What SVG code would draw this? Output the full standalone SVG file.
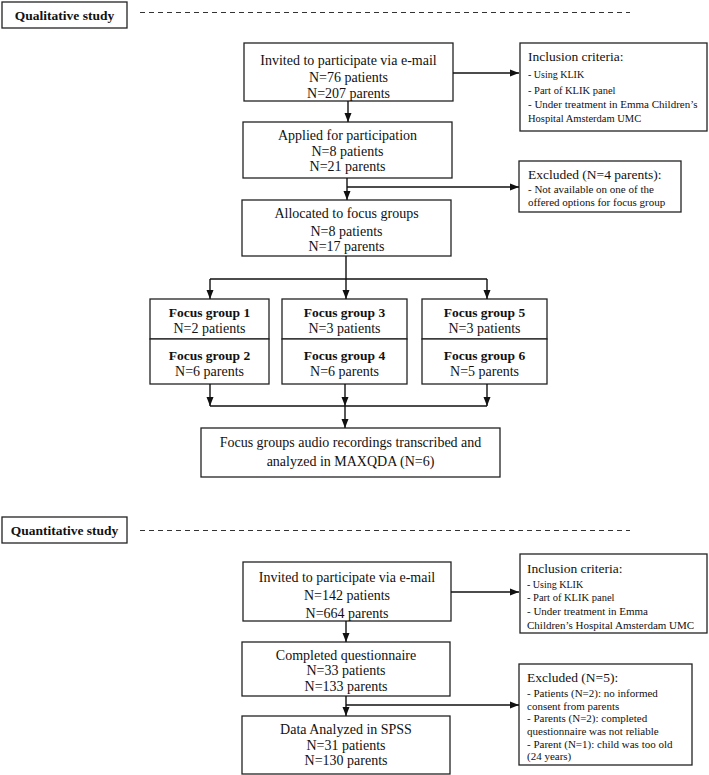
<svg xmlns="http://www.w3.org/2000/svg" width="709" height="775" viewBox="0 0 709 775">
<defs>
<marker id="ah" markerUnits="userSpaceOnUse" markerWidth="9" markerHeight="8" refX="9" refY="4" orient="auto">
<path d="M0,0.5 L9,4 L0,7.5 z" fill="#111"/>
</marker>
<style>
.box{fill:#fff;stroke:#222;stroke-width:1.3}
.ln{fill:none;stroke:#111;stroke-width:1.4}
.dash{fill:none;stroke:#333;stroke-width:1;stroke-dasharray:5,4}
text{font-family:"Liberation Serif","Times New Roman",serif;fill:#111}
.t{font-size:14px;text-anchor:middle}
.b{font-size:13.5px;font-weight:bold;text-anchor:middle}
.h{font-size:13.5px}
.s{font-size:11px}
.s10{font-size:10px}
.s105{font-size:10.5px}
</style>
</defs>
<rect width="709" height="775" fill="#fff"/>

<g id="qual-header">
<rect class="box" x="2" y="2" width="125" height="26"/>
<text class="b" x="64.5" y="20">Qualitative study</text>
<line class="dash" x1="140" y1="12.5" x2="630" y2="12.5"/>
</g>

<g id="q-invited">
<rect class="box" x="244" y="43" width="209" height="58"/>
<text class="t" x="348.5" y="65">Invited to participate via e-mail</text>
<text class="t" x="348.5" y="82">N=76 patients</text>
<text class="t" x="348.5" y="98">N=207 parents</text>
</g>

<g id="q-inclusion">
<rect class="box" x="520" y="43" width="187" height="88"/>
<text class="h" x="528" y="61">Inclusion criteria:</text>
<text class="s10" x="528" y="78">- Using KLIK</text>
<text class="s105" x="528" y="94">- Part of KLIK panel</text>
<text class="s" x="528" y="108">- Under treatment in Emma Children’s</text>
<text class="s105" x="528" y="122">Hospital Amsterdam UMC</text>
</g>

<g id="q-applied">
<rect class="box" x="243" y="122" width="209" height="56"/>
<text class="t" x="347.5" y="140">Applied for participation</text>
<text class="t" x="347.5" y="156">N=8 patients</text>
<text class="t" x="347.5" y="171">N=21 parents</text>
</g>

<g id="q-excluded">
<rect class="box" x="519" y="161" width="162" height="51"/>
<text class="h" x="528" y="179">Excluded (N=4 parents):</text>
<text class="s" x="528" y="193">- Not available on one of the</text>
<text class="s" x="528" y="206">offered options for focus group</text>
</g>

<g id="q-allocated">
<rect class="box" x="242" y="200" width="209" height="56"/>
<text class="t" x="346.5" y="218">Allocated to focus groups</text>
<text class="t" x="346.5" y="236">N=8 patients</text>
<text class="t" x="346.5" y="251">N=17 parents</text>
</g>

<g id="fg1">
<rect class="box" x="150" y="299" width="119" height="40"/>
<text class="b" x="209.5" y="317">Focus group 1</text>
<text class="t" x="209.5" y="333">N=2 patients</text>
</g>
<g id="fg2">
<rect class="box" x="150" y="339" width="119" height="45"/>
<text class="b" x="209.5" y="360">Focus group 2</text>
<text class="t" x="209.5" y="376">N=6 parents</text>
</g>
<g id="fg3">
<rect class="box" x="282" y="299" width="125" height="40"/>
<text class="b" x="344.5" y="317">Focus group 3</text>
<text class="t" x="344.5" y="333">N=3 patients</text>
</g>
<g id="fg4">
<rect class="box" x="282" y="339" width="125" height="45"/>
<text class="b" x="344.5" y="360">Focus group 4</text>
<text class="t" x="344.5" y="376">N=6 parents</text>
</g>
<g id="fg5">
<rect class="box" x="422" y="299" width="125" height="40"/>
<text class="b" x="484.5" y="317">Focus group 5</text>
<text class="t" x="484.5" y="333">N=3 patients</text>
</g>
<g id="fg6">
<rect class="box" x="422" y="339" width="125" height="45"/>
<text class="b" x="484.5" y="360">Focus group 6</text>
<text class="t" x="484.5" y="376">N=5 parents</text>
</g>

<g id="q-analysis">
<rect class="box" x="201" y="428" width="299" height="49"/>
<text class="t" x="350.5" y="447">Focus groups audio recordings transcribed and</text>
<text class="t" x="350.5" y="466">analyzed in MAXQDA (N=6)</text>
</g>

<g id="quant-header">
<rect class="box" x="2" y="517" width="125" height="26"/>
<text class="b" x="64.5" y="535">Quantitative study</text>
<line class="dash" x1="140" y1="530.5" x2="630" y2="530.5"/>
</g>

<g id="n-invited">
<rect class="box" x="243" y="562" width="208" height="59"/>
<text class="t" x="347" y="582">Invited to participate via e-mail</text>
<text class="t" x="347" y="600">N=142 patients</text>
<text class="t" x="347" y="618">N=664 parents</text>
</g>

<g id="n-inclusion">
<rect class="box" x="520" y="554" width="187" height="79"/>
<text class="h" x="527" y="573">Inclusion criteria:</text>
<text class="s10" x="527" y="588">- Using KLIK</text>
<text class="s105" x="527" y="601">- Part of KLIK panel</text>
<text class="s" x="527" y="615">- Under treatment in Emma</text>
<text class="s" x="527" y="629">Children’s Hospital Amsterdam UMC</text>
</g>

<g id="n-completed">
<rect class="box" x="242" y="642" width="208" height="54"/>
<text class="t" x="346" y="660">Completed questionnaire</text>
<text class="t" x="346" y="675">N=33 patients</text>
<text class="t" x="346" y="691">N=133 parents</text>
</g>

<g id="n-excluded">
<rect class="box" x="519" y="664" width="173" height="101"/>
<text class="h" x="527" y="682">Excluded (N=5):</text>
<text class="s" x="527" y="697">- Patients (N=2): no informed</text>
<text class="s" x="527" y="710">consent from parents</text>
<text class="s" x="527" y="722">- Parents (N=2): completed</text>
<text class="s" x="527" y="735">questionnaire was not reliable</text>
<text class="s" x="527" y="748">- Parent (N=1): child was too old</text>
<text class="s" x="527" y="760">(24 years)</text>
</g>

<g id="n-data">
<rect class="box" x="242" y="716" width="208" height="58"/>
<text class="t" x="346" y="734">Data Analyzed in SPSS</text>
<text class="t" x="346" y="750">N=31 patients</text>
<text class="t" x="346" y="765">N=130 parents</text>
</g>

<g id="connectors">
<line class="ln" x1="453" y1="73" x2="519" y2="73" marker-end="url(#ah)"/>
<line class="ln" x1="348" y1="101" x2="348" y2="122" marker-end="url(#ah)"/>
<line class="ln" x1="347" y1="178" x2="347" y2="200" marker-end="url(#ah)"/>
<line class="ln" x1="347" y1="187" x2="519" y2="187" marker-end="url(#ah)"/>
<line class="ln" x1="346" y1="256" x2="346" y2="279"/>
<line class="ln" x1="210" y1="279" x2="487" y2="279"/>
<line class="ln" x1="210" y1="279" x2="210" y2="299" marker-end="url(#ah)"/>
<line class="ln" x1="346" y1="279" x2="346" y2="299" marker-end="url(#ah)"/>
<line class="ln" x1="487" y1="279" x2="487" y2="299" marker-end="url(#ah)"/>
<line class="ln" x1="210" y1="384" x2="210" y2="406" marker-end="url(#ah)"/>
<line class="ln" x1="345" y1="384" x2="345" y2="406" marker-end="url(#ah)"/>
<line class="ln" x1="487" y1="384" x2="487" y2="406" marker-end="url(#ah)"/>
<line class="ln" x1="210" y1="406" x2="487" y2="406"/>
<line class="ln" x1="345" y1="406" x2="345" y2="428" marker-end="url(#ah)"/>
<line class="ln" x1="451" y1="592" x2="519" y2="592" marker-end="url(#ah)"/>
<line class="ln" x1="346" y1="621" x2="346" y2="642" marker-end="url(#ah)"/>
<line class="ln" x1="346" y1="696" x2="346" y2="716" marker-end="url(#ah)"/>
<line class="ln" x1="346" y1="705" x2="519" y2="705" marker-end="url(#ah)"/>
</g>
</svg>
